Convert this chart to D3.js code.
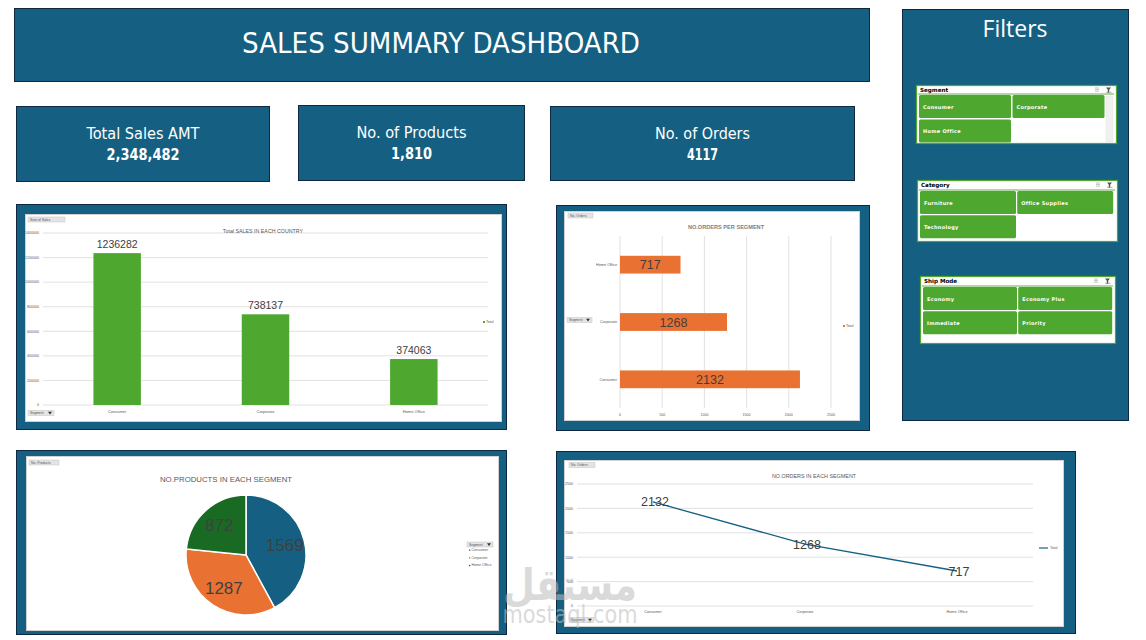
<!DOCTYPE html>
<html><head><meta charset="utf-8">
<script src="https://cdn.jsdelivr.net/npm/d3@7"></script>
<style>body{margin:0;background:#fff;} svg{display:block}</style>
</head><body>
<svg id="dash" width="1146" height="640"></svg>
<script>
// ---------------- DATA ----------------
const segments = ["Consumer", "Corporate", "Home Office"];
const salesValues = [1236282, 738137, 374063];
const orderValues = [2132, 1268, 717];
const productValues = [1569, 1287, 872];
const salesTicks = [0, 200000, 400000, 600000, 800000, 1000000, 1200000, 1400000];
const orderBarTicks = [0, 500, 1000, 1500, 2000, 2500];
const orderLineTicks = [0, 500, 1000, 1500, 2000, 2500];
const kpiLabels = ["Total Sales AMT", "No. of Products", "No. of Orders"];
const kpiValues = ["2,348,482", "1,810", "4117"];
const slicerTitles = ["Segment", "Category", "Ship Mode"];
const segmentItems = ["Consumer", "Corporate", "Home Office"];
const categoryItems = ["Furniture", "Office Supplies", "Technology"];
const shipModeItems = ["Economy", "Economy Plus", "Immediate", "Priority"];
const dashTitle = "SALES SUMMARY DASHBOARD";
const chartTitles = ["Total SALES IN EACH COUNTRY", "NO.ORDERS PER SEGMENT", "NO.PRODUCTS IN EACH SEGMENT", "NO.ORDERS IN EACH SEGMENT"];

// ---------------- STYLE ----------------
const BLUE = "#156082", NAVY = "#0E2841", ORANGE = "#E97132", GREEN = "#4EA72E", DKGREEN = "#196B24";
const GRID = "#d9d9d9", TXT = "#404040", GREYTXT = "#595959";
const condensed = "'Liberation Sans Narrow','DejaVu Sans Condensed',Roboto,sans-serif";
const plain = "'Liberation Sans',Arial,sans-serif";

const svg = d3.select("#dash");

function panel(x0, y0, x1, y1) {
  svg.append("rect").attr("x", x0 + 0.5).attr("y", y0 + 0.5).attr("width", x1 - x0 - 1).attr("height", y1 - y0 - 1)
    .attr("fill", BLUE).attr("stroke", NAVY).attr("stroke-width", 1);
}
function inner(x0, y0, x1, y1) {
  svg.append("rect").attr("x", x0 + 0.5).attr("y", y0 + 0.5).attr("width", x1 - x0 - 1).attr("height", y1 - y0 - 1)
    .attr("fill", "#fff").attr("stroke", "#d0d0d0").attr("stroke-width", 1);
}
function fieldButton(x, y, w, label, arrow) {
  const g = svg.append("g");
  g.append("rect").attr("x", x).attr("y", y).attr("width", w).attr("height", 5)
    .attr("fill", "#e4e4e4").attr("stroke", "#c4c4c4").attr("stroke-width", 0.5);
  g.append("text").attr("x", x + 2).attr("y", y + 3.9).text(label)
    .attr("font-family", plain).attr("font-size", 3.4).attr("fill", "#555");
  if (arrow) {
    g.append("path").attr("d", `M${x + w - 6},${y + 1.3}h4l-2,2.6z`).attr("fill", "#333");
  }
}

// ---------------- HEADER ----------------
panel(14, 8, 870, 82);
svg.append("text").attr("x", 441).attr("y", 53).attr("text-anchor", "middle")
  .attr("font-family", condensed).attr("font-size", 28).attr("fill", "#fff")
  .attr("textLength", 398).attr("lengthAdjust", "spacingAndGlyphs").text(dashTitle);

// ---------------- KPI CARDS ----------------
const kpiBoxes = [[16, 106, 270, 182], [298, 105, 525, 181], [550, 106, 855, 181]];
const kpiLabelW = [113, 110, 95];
const kpiValueW = [73, 41, 31];
kpiBoxes.forEach((b, i) => {
  panel(b[0], b[1], b[2], b[3]);
  const cx = (b[0] + b[2]) / 2;
  svg.append("text").attr("x", cx).attr("y", b[1] + 33).attr("text-anchor", "middle")
    .attr("font-family", condensed).attr("font-size", 16).attr("fill", "#fff")
    .attr("textLength", kpiLabelW[i]).attr("lengthAdjust", "spacingAndGlyphs").text(kpiLabels[i]);
  svg.append("text").attr("x", cx).attr("y", b[1] + 54).attr("text-anchor", "middle")
    .attr("font-family", condensed).attr("font-size", 15).attr("font-weight", "bold").attr("fill", "#fff")
    .attr("textLength", kpiValueW[i]).attr("lengthAdjust", "spacingAndGlyphs").text(kpiValues[i]);
});

// ---------------- FILTERS ----------------
panel(902, 9, 1129, 421);
svg.append("text").attr("x", 1015).attr("y", 36.5).attr("text-anchor", "middle")
  .attr("font-family", "'Open Sans',sans-serif").attr("font-size", 24).attr("fill", "#fff")
  .attr("textLength", 65).attr("lengthAdjust", "spacingAndGlyphs").text("Filters");

function slicer(title, items, box, bx, by, bw, bh, gap, scroll) {
  const g = svg.append("g");
  g.append("rect").attr("x", box[0] + 0.5).attr("y", box[1] + 0.5).attr("width", box[2] - 1).attr("height", box[3] - 1)
    .attr("fill", "#fff").attr("stroke", GREEN).attr("stroke-width", 1.2);
  g.append("text").attr("x", box[0] + 4).attr("y", box[1] + 7).text(title)
    .attr("font-family", "'DejaVu Sans',sans-serif").attr("font-weight", "bold").attr("font-size", 5.6).attr("fill", "#000");
  g.append("line").attr("x1", box[0] + 2).attr("x2", box[0] + box[2] - 3).attr("y1", by - 1).attr("y2", by - 1)
    .attr("stroke", GREEN).attr("stroke-width", 0.9);
  // header icons
  const ix = box[0] + box[2] - 22;
  [0, 1.6, 3.2].forEach(d => g.append("line").attr("x1", ix).attr("x2", ix + 4).attr("y1", box[1] + 3 + d).attr("y2", box[1] + 3 + d)
    .attr("stroke", "#aaa").attr("stroke-width", 0.7));
  g.append("path").attr("d", `M${ix + 11},${box[1] + 2.5}h5l-1.8,2.2v2.6l-1.4,0.6v-3.2z`).attr("fill", "#555");
  g.append("line").attr("x1", ix + 11).attr("x2", ix + 16.5).attr("y1", box[1] + 7.3).attr("y2", box[1] + 7.3).attr("stroke", "#777").attr("stroke-width", 0.6);
  items.forEach((t, i) => {
    const c = i % 2, r = Math.floor(i / 2);
    const x = bx + c * (bw + gap), y = by + r * (bh + gap);
    g.append("rect").attr("x", x).attr("y", y).attr("width", bw).attr("height", bh).attr("rx", 1.5)
      .attr("fill", GREEN);
    g.append("text").attr("x", x + 4).attr("y", y + bh / 2 + 2).text(t)
      .attr("font-family", "'DejaVu Sans',sans-serif").attr("font-weight", "bold").attr("font-size", 5).attr("fill", "#fff")
      .attr("letter-spacing", 0.3);
  });
  if (scroll) {
    g.append("rect").attr("x", box[0] + box[2] - 11).attr("y", by + 1).attr("width", 7).attr("height", box[3] - (by - box[1]) - 3)
      .attr("fill", "#f0f0f0").attr("stroke", "#e2e2e2").attr("stroke-width", 0.5);
  }
}
slicer(slicerTitles[0], segmentItems, [916, 85, 201, 59], 919, 95, 92, 23, 1.5, true);
slicer(slicerTitles[1], categoryItems, [917, 180, 201, 62], 920, 191, 96, 23, 1.2, false);
slicer(slicerTitles[2], shipModeItems, [920, 276, 196, 68], 923, 287, 94, 23, 1.2, false);

// ---------------- CHART 1: SALES BAR ----------------
panel(16, 204, 507, 430);
inner(25, 214, 502, 422);
{
  const x = d3.scaleBand().domain(segments).range([43, 488]).paddingInner(0.68).paddingOuter(0.34);
  const y = d3.scaleLinear().domain([0, 1400000]).range([405, 233]);
  const g = svg.append("g");
  g.selectAll(".gl").data(salesTicks).join("line")
    .attr("x1", 43).attr("x2", 488).attr("y1", d => y(d)).attr("y2", d => y(d))
    .attr("stroke", GRID).attr("stroke-width", 0.8);
  g.selectAll(".tl").data(salesTicks).join("text")
    .attr("x", 39).attr("y", d => y(d) + 1.3).attr("text-anchor", "end").text(d => d)
    .attr("font-family", plain).attr("font-size", 3.6).attr("fill", GREYTXT);
  g.selectAll(".bar").data(segments).join("rect")
    .attr("x", d => x(d)).attr("width", x.bandwidth())
    .attr("y", (d, i) => y(salesValues[i])).attr("height", (d, i) => y(0) - y(salesValues[i]))
    .attr("fill", GREEN);
  g.selectAll(".vl").data(segments).join("text")
    .attr("x", d => x(d) + x.bandwidth() / 2).attr("y", (d, i) => y(salesValues[i]) - 5)
    .attr("text-anchor", "middle").text((d, i) => salesValues[i])
    .attr("font-family", plain).attr("font-size", 10.5).attr("fill", TXT);
  g.selectAll(".cl").data(segments).join("text")
    .attr("x", d => x(d) + x.bandwidth() / 2).attr("y", 412.5).attr("text-anchor", "middle").text(d => d)
    .attr("font-family", plain).attr("font-size", 4).attr("fill", GREYTXT);
  g.append("text").attr("x", 263).attr("y", 232.5).attr("text-anchor", "middle").text(chartTitles[0])
    .attr("font-family", plain).attr("font-size", 5.3).attr("fill", GREYTXT);
  g.append("rect").attr("x", 483).attr("y", 321).attr("width", 2).attr("height", 2).attr("fill", GREEN);
  g.append("text").attr("x", 486).attr("y", 323.2).text("Total").attr("font-family", plain).attr("font-size", 3.6).attr("fill", GREYTXT);
  fieldButton(28, 217, 37, "Sum of Sales", false);
  fieldButton(28, 410.5, 26, "Segment", true);
}

// ---------------- CHART 2: ORDERS HORIZONTAL BAR ----------------
panel(556, 205, 870, 431);
inner(564, 211, 860, 421);
{
  const x = d3.scaleLinear().domain([0, 2500]).range([620, 831]);
  const y = d3.scaleBand().domain(segments.slice().reverse()).range([236, 408]).paddingInner(0.69).paddingOuter(0.345);
  const g = svg.append("g");
  g.selectAll(".gl").data(orderBarTicks).join("line")
    .attr("x1", d => x(d)).attr("x2", d => x(d)).attr("y1", 236).attr("y2", 408)
    .attr("stroke", GRID).attr("stroke-width", 0.8);
  g.selectAll(".tl").data(orderBarTicks).join("text")
    .attr("x", d => x(d)).attr("y", 415.5).attr("text-anchor", "middle").text(d => d)
    .attr("font-family", plain).attr("font-size", 3.6).attr("fill", GREYTXT);
  g.selectAll(".bar").data(segments).join("rect")
    .attr("x", x(0)).attr("y", d => y(d)).attr("height", y.bandwidth())
    .attr("width", (d, i) => x(orderValues[i]) - x(0)).attr("fill", ORANGE);
  g.selectAll(".vl").data(segments).join("text")
    .attr("x", (d, i) => (x(0) + x(orderValues[i])) / 2).attr("y", d => y(d) + y.bandwidth() / 2 + 4.5)
    .attr("text-anchor", "middle").text((d, i) => orderValues[i])
    .attr("font-family", plain).attr("font-size", 12.5).attr("fill", TXT);
  g.selectAll(".cl").data(segments).join("text")
    .attr("x", 617).attr("y", d => y(d) + y.bandwidth() / 2 + 1.3).attr("text-anchor", "end").text(d => d)
    .attr("font-family", plain).attr("font-size", 3.8).attr("fill", GREYTXT);
  g.append("text").attr("x", 726).attr("y", 229).attr("text-anchor", "middle").text(chartTitles[1])
    .attr("font-family", plain).attr("font-size", 5.6).attr("font-weight", "bold").attr("fill", "#7f7f7f");
  g.append("rect").attr("x", 843).attr("y", 325).attr("width", 2).attr("height", 2).attr("fill", ORANGE);
  g.append("text").attr("x", 846).attr("y", 327.2).text("Total").attr("font-family", plain).attr("font-size", 3.6).attr("fill", GREYTXT);
  fieldButton(568, 213, 25, "No. Orders", false);
  fieldButton(567, 317.5, 25, "Segment", true);
}

// ---------------- CHART 3: PRODUCTS PIE ----------------
panel(16, 450, 507, 635);
inner(26, 456, 499, 631);
{
  const g = svg.append("g").attr("transform", "translate(246,555)");
  const pie = d3.pie().sort(null).value(d => d);
  const arcs = pie(productValues);
  const arc = d3.arc().innerRadius(0).outerRadius(60);
  const labelArc = d3.arc().innerRadius(40).outerRadius(40);
  const colors = [BLUE, ORANGE, DKGREEN];
  g.selectAll("path").data(arcs).join("path").attr("d", arc).attr("fill", (d, i) => colors[i])
    .attr("stroke", "#fff").attr("stroke-width", 1.5);
  g.selectAll(".pl").data(arcs).join("text")
    .attr("transform", d => `translate(${labelArc.centroid(d)})`).attr("dy", "0.35em")
    .attr("text-anchor", "middle").text(d => d.data)
    .attr("font-family", plain).attr("font-size", 17).attr("fill", TXT);
  svg.append("text").attr("x", 226).attr("y", 482).attr("text-anchor", "middle").text(chartTitles[2])
    .attr("font-family", plain).attr("font-size", 7.8).attr("fill", GREYTXT);
  fieldButton(29, 460, 30, "No. Products", false);
  fieldButton(467, 542, 26, "Segment", true);
  segments.forEach((s, i) => {
    svg.append("rect").attr("x", 469).attr("y", 549.5 + i * 7.7).attr("width", 1.3).attr("height", 1.3).attr("fill", colors[i]);
    svg.append("text").attr("x", 471.5).attr("y", 551 + i * 7.7).text(s)
      .attr("font-family", plain).attr("font-size", 3.6).attr("fill", GREYTXT);
  });
}

// ---------------- CHART 4: ORDERS LINE ----------------
panel(556, 451, 1076, 634);
inner(564, 460, 1064, 627);
{
  const x = d3.scalePoint().domain(segments).range([577, 1033]).padding(0.5);
  const y = d3.scaleLinear().domain([0, 2500]).range([606, 484]);
  const g = svg.append("g");
  g.selectAll(".gl").data(orderLineTicks).join("line")
    .attr("x1", 577).attr("x2", 1033).attr("y1", d => y(d)).attr("y2", d => y(d))
    .attr("stroke", GRID).attr("stroke-width", 0.8);
  g.selectAll(".tl").data(orderLineTicks).join("text")
    .attr("x", 573).attr("y", d => y(d) + 1.3).attr("text-anchor", "end").text(d => d)
    .attr("font-family", plain).attr("font-size", 3.6).attr("fill", GREYTXT);
  const line = d3.line().x((d, i) => x(segments[i])).y(d => y(d));
  g.append("path").attr("d", line(orderValues)).attr("fill", "none").attr("stroke", BLUE).attr("stroke-width", 1.3);
  g.selectAll(".vl").data(segments).join("text")
    .attr("x", d => x(d) + 2).attr("y", (d, i) => y(orderValues[i]) + 4.5)
    .attr("text-anchor", "middle").text((d, i) => orderValues[i])
    .attr("font-family", plain).attr("font-size", 12.5).attr("fill", TXT);
  g.selectAll(".cl").data(segments).join("text")
    .attr("x", d => x(d)).attr("y", 613).attr("text-anchor", "middle").text(d => d)
    .attr("font-family", plain).attr("font-size", 3.8).attr("fill", GREYTXT);
  g.append("text").attr("x", 814).attr("y", 478).attr("text-anchor", "middle").text(chartTitles[3])
    .attr("font-family", plain).attr("font-size", 5.4).attr("fill", GREYTXT);
  g.append("line").attr("x1", 1039).attr("x2", 1048).attr("y1", 548).attr("y2", 548).attr("stroke", BLUE).attr("stroke-width", 1.2);
  g.append("text").attr("x", 1050).attr("y", 549.3).text("Total").attr("font-family", plain).attr("font-size", 3.6).attr("fill", GREYTXT);
  fieldButton(569, 462.5, 26, "No. Orders", false);
  fieldButton(569, 617.5, 25, "Segment", true);
}

// ---------------- WATERMARK ----------------
svg.append("text").attr("x", 570).attr("y", 600).attr("text-anchor", "middle")
  .attr("font-family", "'DejaVu Sans',sans-serif").attr("font-weight", "bold").attr("font-size", 44)
  .attr("fill", "#bdbdbd").attr("opacity", 0.55)
  .attr("textLength", 134).attr("lengthAdjust", "spacingAndGlyphs").text("مستقل");
svg.append("text").attr("x", 570).attr("y", 623).attr("text-anchor", "middle")
  .attr("font-family", "'DejaVu Sans',sans-serif").attr("font-size", 24)
  .attr("fill", "#bdbdbd").attr("opacity", 0.55)
  .attr("textLength", 135).attr("lengthAdjust", "spacingAndGlyphs").text("mostaql.com");
</script>
</body></html>
